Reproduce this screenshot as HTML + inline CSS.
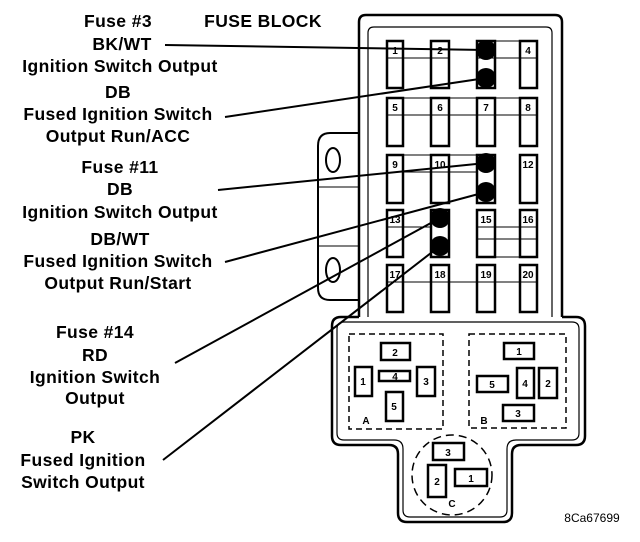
<!DOCTYPE html>
<html><head><style>
body{margin:0;background:#fff}
svg{display:block}
text{font-family:"Liberation Sans",Arial,sans-serif;font-weight:bold;fill:#000}
.l{font-size:17.5px;text-anchor:middle;letter-spacing:0.4px}
.n{font-size:10px;text-anchor:middle}
</style></head><body>
<svg width="640" height="542" viewBox="0 0 640 542">
<g fill="none" stroke="#000">
<path d="M359 133 H330 Q318 133 318 146 V288 Q318 300 330 300 H359" stroke-width="2"/>
<line x1="318" y1="187" x2="359" y2="187" stroke-width="1"/>
<line x1="318" y1="246" x2="359" y2="246" stroke-width="1"/>
<ellipse cx="333" cy="160" rx="7" ry="12" stroke-width="2"/>
<ellipse cx="333" cy="270" rx="7" ry="12" stroke-width="2"/>
<path d="M359 317 V22 Q359 15 366 15 H555 Q562 15 562 22 V317" stroke-width="2.5"/>
<path d="M368 317 V33 Q368 27 374 27 H546 Q552 27 552 33 V317" stroke-width="1.2"/>
<path d="M562 317 H576 Q585 317 585 326 V436 Q585 445 576 445 H521 Q512 445 512 454 V513 Q512 522 503 522 H407 Q398 522 398 513 V454 Q398 445 389 445 H341 Q332 445 332 436 V326 Q332 317 341 317 H359" stroke-width="2.5"/>
<path d="M368 322 H572 Q579 322 579 329 V433 Q579 440 572 440 H516 Q507 440 507 449 V510 Q507 517 500 517 H410 Q403 517 403 510 V449 Q403 440 394 440 H344 Q337 440 337 433 V329 Q337 322 344 322 Z" stroke-width="1.2"/>
<rect x="349" y="334" width="94" height="95" stroke-width="1.5" stroke-dasharray="6,4"/>
<rect x="469" y="334" width="97" height="94" stroke-width="1.5" stroke-dasharray="6,4"/>
<circle cx="452" cy="475" r="40" stroke-width="1.5" stroke-dasharray="8,5"/>
<g stroke-width="2.5">
<rect x="381" y="343" width="29" height="17"/><rect x="355" y="367" width="17" height="29"/>
<rect x="379" y="371" width="31" height="10"/><rect x="417" y="367" width="18" height="29"/>
<rect x="386" y="392" width="17" height="29"/>
<rect x="504" y="343" width="30" height="16"/><rect x="477" y="376" width="31" height="16"/>
<rect x="517" y="368" width="17" height="30"/><rect x="539" y="368" width="18" height="30"/>
<rect x="503" y="405" width="31" height="16"/>
<rect x="433" y="443" width="31" height="17"/><rect x="428" y="465" width="18" height="32"/>
<rect x="455" y="469" width="32" height="17"/>
</g>
<g stroke-width="2.5">
<rect x="387" y="41" width="16" height="47"/><rect x="431" y="41" width="18" height="47"/><rect x="477" y="41" width="18" height="47"/><rect x="520" y="41" width="17" height="47"/>
<rect x="387" y="98" width="16" height="48"/><rect x="431" y="98" width="18" height="48"/><rect x="477" y="98" width="18" height="48"/><rect x="520" y="98" width="17" height="48"/>
<rect x="387" y="155" width="16" height="48"/><rect x="431" y="155" width="18" height="48"/><rect x="477" y="155" width="18" height="48"/><rect x="520" y="155" width="17" height="48"/>
<rect x="387" y="210" width="16" height="47"/><rect x="431" y="210" width="18" height="47"/><rect x="477" y="210" width="18" height="47"/><rect x="520" y="210" width="17" height="47"/>
<rect x="387" y="265" width="16" height="47"/><rect x="431" y="265" width="18" height="47"/><rect x="477" y="265" width="18" height="47"/><rect x="520" y="265" width="17" height="47"/>
</g>
<g stroke-width="1">
<line x1="495" y1="41" x2="520" y2="41"/><line x1="477" y1="58" x2="537" y2="58"/>
<line x1="387" y1="115" x2="537" y2="115"/><line x1="403" y1="98" x2="520" y2="98"/>
<line x1="403" y1="155" x2="477" y2="155"/><line x1="403" y1="172" x2="477" y2="172"/>
<line x1="387" y1="227" x2="431" y2="227"/>
<line x1="477" y1="239" x2="537" y2="239"/><line x1="495" y1="257" x2="520" y2="257"/>
<line x1="387" y1="282" x2="537" y2="282"/>
<line x1="387" y1="58" x2="449" y2="58"/><line x1="477" y1="227" x2="537" y2="227"/>
</g>
<g stroke-width="2">
<line x1="165" y1="45" x2="486" y2="50"/>
<line x1="225" y1="117" x2="486" y2="78"/>
<line x1="218" y1="190" x2="486" y2="163"/>
<line x1="225" y1="262" x2="486" y2="192"/>
<line x1="175" y1="363" x2="440" y2="218"/>
<line x1="163" y1="460" x2="440" y2="246"/>
</g>
</g>
<g fill="#000">
<circle cx="486" cy="50" r="10"/><circle cx="486" cy="78" r="10"/>
<circle cx="486" cy="163" r="10"/><circle cx="486" cy="192" r="10"/>
<circle cx="440" cy="218" r="10"/><circle cx="440" cy="246" r="10"/>
</g>
<g class="n">
<text x="395" y="54">1</text><text x="440" y="54">2</text><text x="528" y="54">4</text>
<text x="395" y="111">5</text><text x="440" y="111">6</text><text x="486" y="111">7</text><text x="528" y="111">8</text>
<text x="395" y="168">9</text><text x="440" y="168">10</text><text x="528" y="168">12</text>
<text x="395" y="223">13</text><text x="486" y="223">15</text><text x="528" y="223">16</text>
<text x="395" y="278">17</text><text x="440" y="278">18</text><text x="486" y="278">19</text><text x="528" y="278">20</text>
<text x="395" y="356">2</text><text x="363" y="385">1</text><text x="395" y="380">4</text><text x="426" y="385">3</text><text x="394" y="410">5</text><text x="366" y="424">A</text>
<text x="519" y="355">1</text><text x="492" y="388">5</text><text x="525" y="387">4</text><text x="548" y="387">2</text><text x="518" y="417">3</text><text x="484" y="424">B</text>
<text x="448" y="456">3</text><text x="437" y="485">2</text><text x="471" y="482">1</text><text x="452" y="507">C</text>
</g>
<text x="592" y="522" style="font-size:12px;font-weight:normal;text-anchor:middle">8Ca67699</text>
<g class="l">
<text x="118" y="27">Fuse #3</text>
<text x="263" y="27">FUSE BLOCK</text>
<text x="122" y="50">BK/WT</text>
<text x="120" y="72">Ignition Switch Output</text>
<text x="118" y="98">DB</text>
<text x="118" y="120">Fused Ignition Switch</text>
<text x="118" y="142">Output Run/ACC</text>
<text x="120" y="173">Fuse #11</text>
<text x="120" y="195">DB</text>
<text x="120" y="218">Ignition Switch Output</text>
<text x="120" y="245">DB/WT</text>
<text x="118" y="267">Fused Ignition Switch</text>
<text x="118" y="289">Output Run/Start</text>
<text x="95" y="338">Fuse #14</text>
<text x="95" y="361">RD</text>
<text x="95" y="383">Ignition Switch</text>
<text x="95" y="404">Output</text>
<text x="83" y="443">PK</text>
<text x="83" y="466">Fused Ignition</text>
<text x="83" y="488">Switch Output</text>
</g>
</svg>
</body></html>
